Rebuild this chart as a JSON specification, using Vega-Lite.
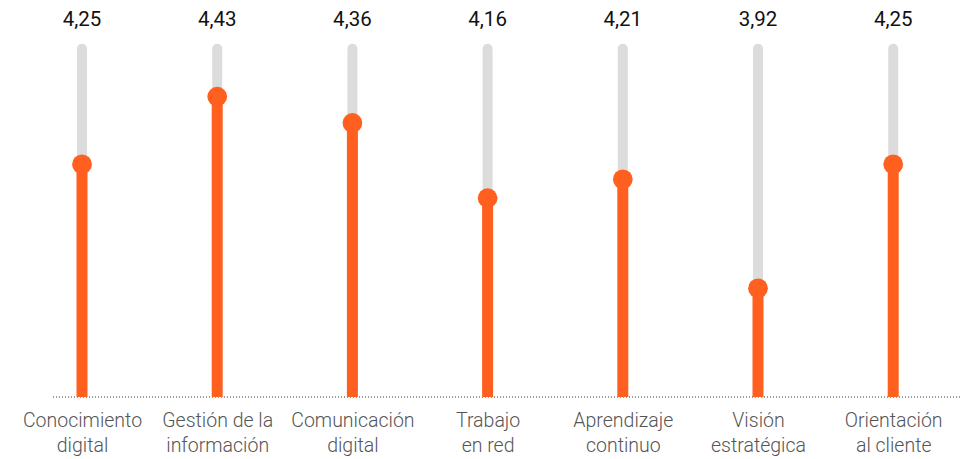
{
  "$schema": "https://vega.github.io/schema/vega-lite/v6.json",
  "width": 908,
  "height": 397,
  "autosize": "none",
  "padding": {"left": 52, "top": 0, "right": 7, "bottom": 62},
  "background": "white",
  "config": {
    "view": {"stroke": null},
    "locale": {"number": {"decimal": ",", "thousands": ".", "grouping": [3], "currency": ["", " €"]}}
  },
  "data": {
    "values": [
      {"competencia": "Conocimiento|digital", "valor": 4.25},
      {"competencia": "Gestión de la|información", "valor": 4.43},
      {"competencia": "Comunicación|digital", "valor": 4.36},
      {"competencia": "Trabajo|en red", "valor": 4.16},
      {"competencia": "Aprendizaje|continuo", "valor": 4.21},
      {"competencia": "Visión|estratégica", "valor": 3.92},
      {"competencia": "Orientación|al cliente", "valor": 4.25}
    ]
  },
  "layer": [
    {
      "mark": {"type": "rule", "color": "#999999", "strokeWidth": 1.2, "strokeDash": [1, 2]},
      "encoding": {"y": {"datum": 3.631, "type": "quantitative", "scale": {"domain": [3.631, 4.687], "nice": false, "zero": false}, "axis": null}}
    },
    {
      "mark": {"type": "rule", "color": "#DCDCDC", "strokeWidth": 10, "strokeCap": "round"},
      "encoding": {
        "x": {
          "field": "competencia",
          "type": "nominal",
          "sort": null,
          "scale": {"type": "point", "padding": 0.358, "align": 0.31},
          "axis": {
            "title": null,
            "domain": false,
            "ticks": false,
            "grid": false,
            "labelAngle": 0,
            "labelExpr": "split(datum.value, '|')",
            "labelFont": "Roboto",
            "labelFontWeight": 300,
            "labelFontSize": 19.5,
            "labelLineHeight": 25,
            "labelColor": "#555555",
            "labelPadding": 14,
            "labelBaseline": "top"
          }
        },
        "y": {"datum": 4.557, "type": "quantitative"},
        "y2": {"datum": 3.66}
      }
    },
    {
      "mark": {"type": "rule", "color": "#FF5F1F", "strokeWidth": 11, "strokeCap": "butt"},
      "encoding": {
        "x": {"field": "competencia", "type": "nominal", "sort": null},
        "y": {"field": "valor", "type": "quantitative"},
        "y2": {"datum": 3.631}
      }
    },
    {
      "mark": {"type": "circle", "color": "#FF5F1F", "opacity": 1, "size": 390},
      "encoding": {
        "x": {"field": "competencia", "type": "nominal", "sort": null},
        "y": {"field": "valor", "type": "quantitative"}
      }
    },
    {
      "mark": {"type": "text", "font": "Roboto", "fontSize": 20.5, "color": "#111111", "baseline": "middle"},
      "encoding": {
        "x": {"field": "competencia", "type": "nominal", "sort": null},
        "y": {"datum": 4.635, "type": "quantitative"},
        "text": {"field": "valor", "type": "quantitative", "format": ".2f"}
      }
    }
  ]
}
